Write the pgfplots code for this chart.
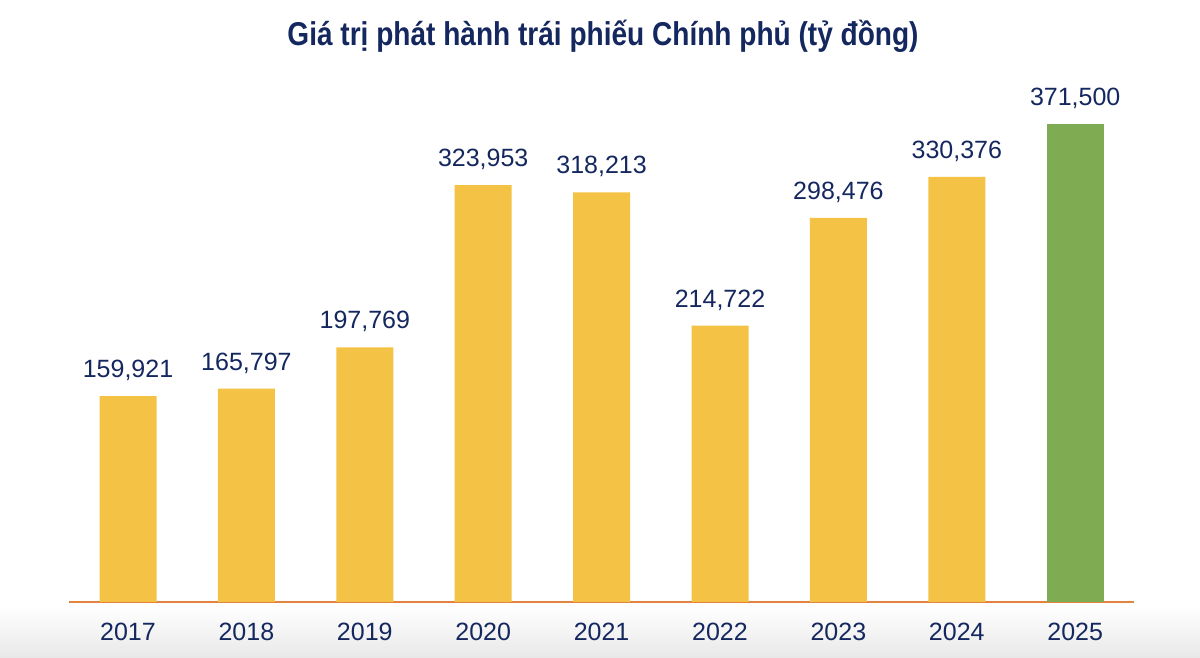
\documentclass[border=0pt]{standalone}
\usepackage{pgfplots}
\pgfplotsset{compat=1.18}
\usepackage{fontspec}
\setmainfont{Liberation Sans}
\definecolor{baryellow}{HTML}{F4C244}
\definecolor{bargreen}{HTML}{7FAB53}
\definecolor{navy}{HTML}{14275E}
\definecolor{lineorange}{HTML}{E2833F}
\begin{document}
\begin{tikzpicture}
\path[use as bounding box] (0,0) rectangle (600pt,329pt);
\shade[top color=white, bottom color=black!9, draw=none] (0,0) rectangle (600pt,26pt);
\node[font=\bfseries\fontsize{16.5}{18}\selectfont, text=navy, inner sep=0] at (301.5pt,311pt) {\scalebox{0.85}[1]{Giá trị phát hành trái phiếu Chính phủ (tỷ đồng)}};
\begin{axis}[
  at={(34.4pt,28pt)}, anchor=south west,
  scale only axis, width=532.8pt, height=257.4pt,
  xmin=-0.5, xmax=8.5, ymin=0, ymax=400000,
  ybar, bar width=28.5pt, bar shift=0pt,
  xtick={0,1,2,3,4,5,6,7,8},
  xticklabels={2017,2018,2019,2020,2021,2022,2023,2024,2025},
  major tick length=0pt,
  ytick=\empty,
  axis x line*=bottom, axis y line=none,
  x axis line style={draw=lineorange, line width=1pt, -},
  xticklabel style={font=\fontsize{12.5}{14}\selectfont, text=navy, inner sep=0pt, yshift=-10.5pt},
  nodes near coords,
  nodes near coords style={font=\fontsize{12.5}{14}\selectfont, text=navy, inner sep=0pt, anchor=south, yshift=7.5pt,
    /pgf/number format/.cd, fixed, 1000 sep={,}, assume math mode=true},
  /pgf/number format/assume math mode=true,
  clip=false,
]
\addplot[fill=baryellow, draw=none] coordinates {(0,159921) (1,165797) (2,197769) (3,323953) (4,318213) (5,214722) (6,298476) (7,330376)};
\addplot[fill=bargreen, draw=none] coordinates {(8,371500)};
\end{axis}
\end{tikzpicture}
\end{document}
